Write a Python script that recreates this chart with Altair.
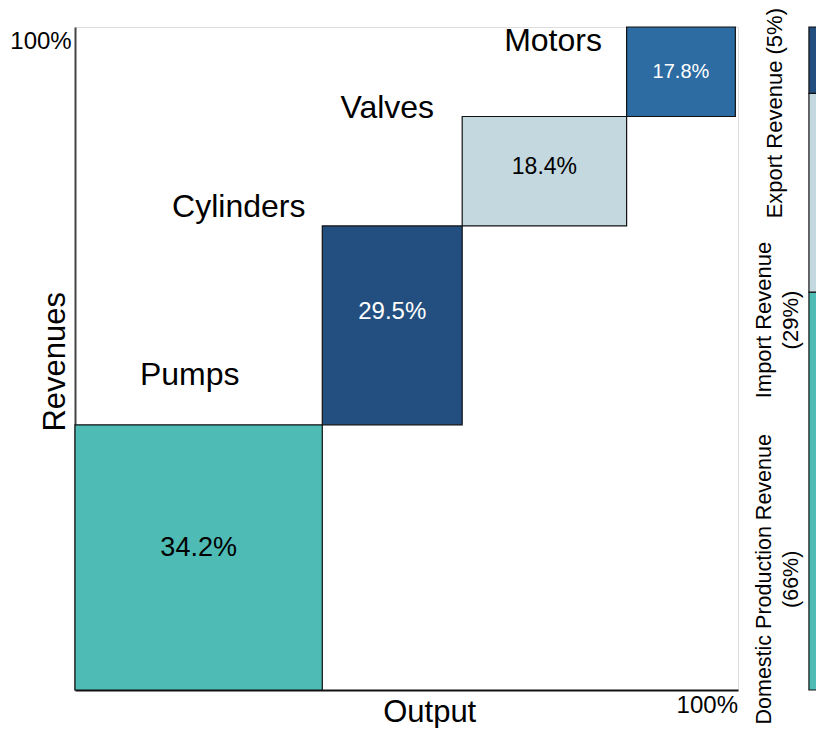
import altair as alt
import pandas as pd

# ---- data ----
segments = ["Pumps", "Cylinders", "Valves", "Motors"]
share_labels = ["34.2%", "29.5%", "18.4%", "17.8%"]
# cumulative output share (x) and cumulative revenue share (y) bounds of each block
out_start = [0.0, 37.3, 58.4, 83.2]
out_end = [37.3, 58.4, 83.2, 99.6]
rev_start = [0.0, 40.0, 70.0, 86.5]
rev_end = [40.0, 70.0, 86.5, 100.0]
seg_colors = ["#4EBBB5", "#234F80", "#C4D8E0", "#2C6CA2"]
share_text_colors = ["#000000", "#FFFFFF", "#000000", "#FFFFFF"]
share_font = [27, 24, 23, 20]
share_y = [21.4, 57.0, 78.9, 93.2]
name_x = [17.3, 24.7, 47.1, 72.1]
name_y = [47.5, 72.9, 87.8, 97.9]

sources = ["Domestic Production Revenue", "Import Revenue", "Export Revenue"]
source_pct = ["(66%)", "(29%)", "(5%)"]
source_lo = [0.0, 60.0, 90.0]
source_hi = [60.0, 90.0, 100.0]
source_colors = ["#4EBBB5", "#C4D8E0", "#234F80"]
source_label_text = ["Domestic Production Revenue\n(66%)", "Import Revenue\n(29%)", "Export Revenue (5%)"]
source_label_x = [104.1, 103.9, 105.6]
source_label_y = [16.7, 55.8, 87.0]
source_label_size = [21.5, 22, 22]

FONT = "Liberation Sans"
W, H = 663, 663

blocks = pd.DataFrame({
    "segment": segments, "x0": out_start, "x1": out_end,
    "y0": rev_start, "y1": rev_end, "fill": seg_colors,
})
side = pd.DataFrame({
    "source": sources, "x0": [110.7] * 3, "x1": [116.0] * 3,
    "y0": source_lo, "y1": source_hi, "fill": source_colors,
})

xs = alt.Scale(domain=[0, 100], nice=False, zero=False)
ys = alt.Scale(domain=[0, 100], nice=False, zero=False)

rects = alt.Chart(blocks).mark_rect(stroke="#111", strokeWidth=1.2, clip=False).encode(
    x=alt.X("x0:Q", scale=xs, axis=alt.Axis(domain=True, domainColor="#111", domainWidth=2,
                                             ticks=False, labels=False, grid=False, title=None)),
    x2="x1:Q",
    y=alt.Y("y0:Q", scale=ys, axis=alt.Axis(domain=True, domainColor="#444", domainWidth=2,
                                             ticks=False, labels=False, grid=False, title=None)),
    y2="y1:Q",
    fill=alt.Fill("fill:N", scale=None),
)

side_rects = alt.Chart(side).mark_rect(stroke="#111", strokeWidth=1.2, clip=False).encode(
    x=alt.X("x0:Q", scale=xs), x2="x1:Q",
    y=alt.Y("y0:Q", scale=ys), y2="y1:Q",
    fill=alt.Fill("fill:N", scale=None),
)

share_df = pd.DataFrame({
    "text": share_labels,
    "x": [(a + b) / 2 for a, b in zip(out_start, out_end)],
    "y": share_y, "fs": share_font, "tc": share_text_colors,
})
share_txt = alt.Chart(share_df).mark_text(font=FONT, align="center", baseline="middle", clip=False).encode(
    x=alt.X("x:Q", scale=xs), y=alt.Y("y:Q", scale=ys),
    text="text:N", size=alt.Size("fs:Q", scale=None), color=alt.Color("tc:N", scale=None),
)

name_df = pd.DataFrame({"text": segments, "x": name_x, "y": name_y})
name_txt = alt.Chart(name_df).mark_text(font=FONT, fontSize=32, align="center", baseline="middle",
                                        color="#000", clip=False).encode(
    x=alt.X("x:Q", scale=xs), y=alt.Y("y:Q", scale=ys), text="text:N",
)

axis_titles = pd.DataFrame({
    "text": ["Output", "Revenues"], "x": [53.5, -2.9], "y": [-3.4, 49.5], "ang": [0, 270],
})
axis_txt = alt.Chart(axis_titles).mark_text(font=FONT, fontSize=31, align="center", baseline="middle",
                                            color="#000", clip=False).encode(
    x=alt.X("x:Q", scale=xs), y=alt.Y("y:Q", scale=ys), text="text:N",
    angle=alt.Angle("ang:Q", scale=None),
)

hundred = pd.DataFrame({"text": ["100%", "100%"], "x": [-0.5, 100.0], "y": [97.7, -2.4]})
hundred_txt = alt.Chart(hundred).mark_text(font=FONT, fontSize=24, align="right", baseline="middle",
                                           color="#000", clip=False).encode(
    x=alt.X("x:Q", scale=xs), y=alt.Y("y:Q", scale=ys), text="text:N",
)

src_df = pd.DataFrame({"text": source_label_text, "x": source_label_x, "y": source_label_y,
                       "fs": source_label_size})
src_txt = alt.Chart(src_df).mark_text(font=FONT, align="center", baseline="middle",
                                      angle=270, lineBreak="\n", lineHeight=27, color="#000",
                                      clip=False).encode(
    x=alt.X("x:Q", scale=xs), y=alt.Y("y:Q", scale=ys), text="text:N",
    size=alt.Size("fs:Q", scale=None),
)

chart = alt.layer(rects, side_rects, share_txt, name_txt, axis_txt, hundred_txt, src_txt).properties(
    width=W, height=H,
    autosize=alt.AutoSizeParams(type="none"),
    padding={"left": 67, "top": 19, "right": 78, "bottom": 38},
).configure_view(stroke=None).configure(background="white")

chart.save("out.html", embed_options={"renderer": "svg", "actions": False})
